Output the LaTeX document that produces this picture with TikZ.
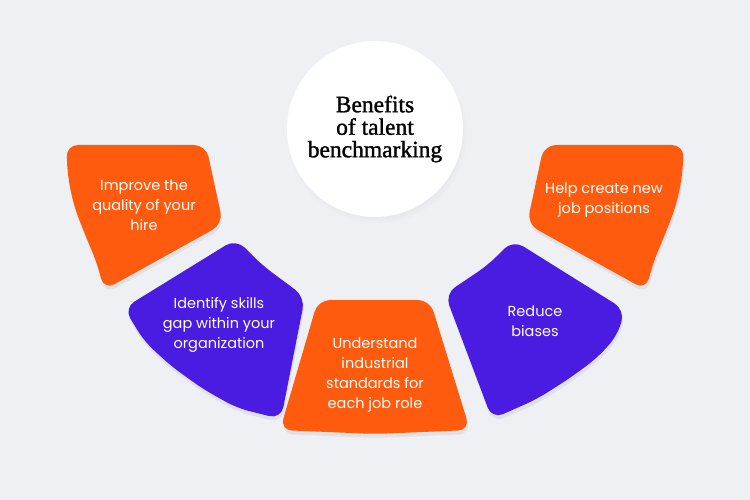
\documentclass[tikz,border=0pt]{standalone}
\usepackage{fontspec}
\setmainfont{Poppins}
\newfontfamily\titlefont{Liberation Serif}[FakeBold=1.4]
\usetikzlibrary{shadows}
\definecolor{bggray}{HTML}{EFF0F4}
\definecolor{benorange}{HTML}{FE5B0E}
\definecolor{benblue}{HTML}{4A1CE2}

\begin{document}
\begin{tikzpicture}[x=1pt, y=-1pt,
		piece/.style={rounded corners=12pt, drop shadow={shadow xshift=1pt, shadow yshift=-4pt, opacity=0.10, fill=black!60}},
		orangepiece/.style={piece, fill=benorange},
		bluepiece/.style={piece, fill=benblue},
		piecetext/.style={text=white, align=center, font=\fontsize{14.5}{20}\selectfont}]
		\useasboundingbox (0,0) rectangle (750,500);
		\fill[bggray] (0,0) rectangle (750,500);
		
		% centre circle
		\node[circle, fill=white, minimum size=176pt, inner sep=0pt,
			circular drop shadow={shadow scale=1.03, shadow yshift=-4pt, opacity=0.12, fill=black!50}] (title) at (375,129) {};
		\node[align=center, font=\titlefont\fontsize{23.5}{22.5}\selectfont] (titletext) at (title.center) {Benefits\\of talent\\benchmarking};
		
		% left pieces
		\fill[orangepiece] (66,145) -- (206,145) -- (223,224) -- (104,290) -- (97,263) -- (84,232) -- (74,206) -- (68,178) -- cycle;
		\fill[bluepiece] (236,239) -- (262,265) -- (305,297) -- (281,419) -- (237,408) -- (203,389) -- (171,366) -- (144,341) -- (124,308) -- cycle;
		
		% bottom piece
		\fill[orangepiece] (318,300) -- (430,300) -- (470,430) -- (375,434) -- (280,430) -- cycle;
		
		% right pieces
		\fill[bluepiece] (513,240) -- (488,265) -- (445,294) -- (492,419) -- (537,399) -- (570,378) -- (597,358) -- (617,336) -- (625,310) -- cycle;
		\fill[orangepiece] (684,145) -- (544,145) -- (527,224) -- (646,290) -- (653,263) -- (666,232) -- (676,206) -- (682,178) -- cycle;
		
		% texts
		\node[piecetext] (hire) at (144,205) {Improve the\\quality of your\\hire};
		\node[piecetext] (skills) at (219,325) {Identify skills\\gap within your\\organization};
		\node[piecetext] (standards) at (375,375) {Understand\\industrial\\standards for\\each job role};
		\node[piecetext] (biases) at (535,321) {Reduce\\biases};
		\node[piecetext] (positions) at (604,200) {Help create new\\job positions};
\end{tikzpicture}
\end{document}
